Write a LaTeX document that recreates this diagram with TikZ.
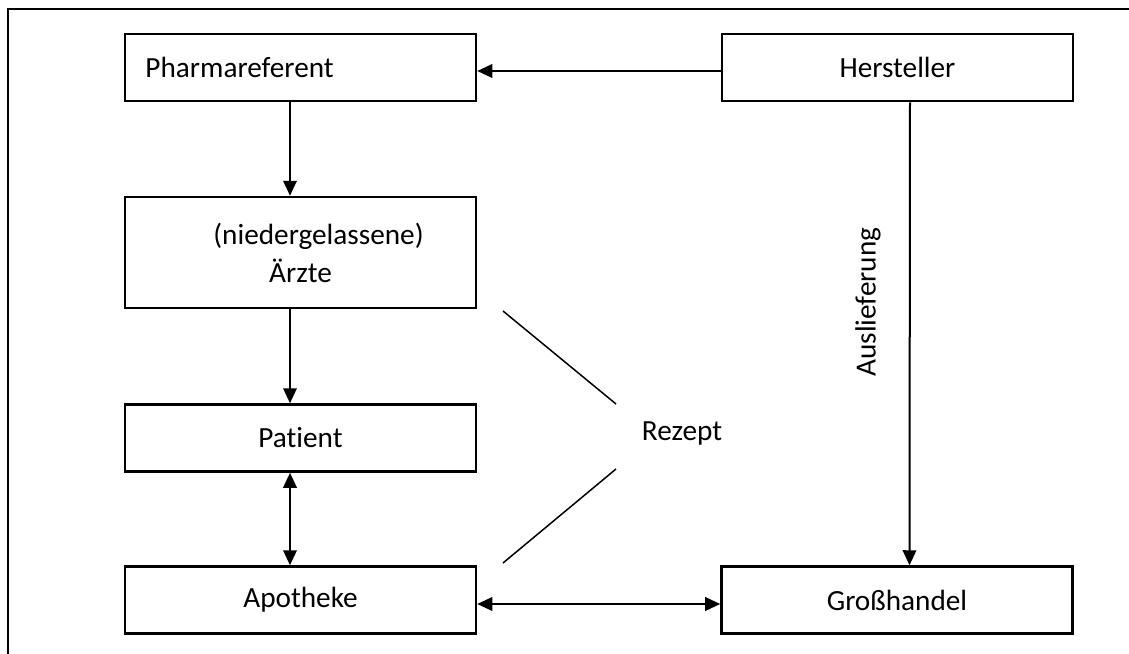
\documentclass[tikz,border=0pt]{standalone}
\usepackage{fontspec}
\setmainfont{Carlito}[Ligatures=NoCommon]
\usetikzlibrary{arrows.meta}

\begin{document}
\begin{tikzpicture}[x=0.4pt,y=-0.4pt,
    every node/.style={font=\fontsize{11.7}{15.2}\selectfont},
    box/.style={draw, line width=1pt, minimum width=140.4pt, minimum height=26.8pt, inner sep=0pt},
    arr/.style={line width=0.8pt, -{Triangle[length=6pt,width=5.4pt]}},
    darr/.style={line width=0.8pt, {Triangle[length=6pt,width=5.4pt]}-{Triangle[length=6pt,width=5.4pt]}}]
    \useasboundingbox (0,0) rectangle (1129,654);

    % draw outer frame
    \begin{scope}
    \clip (0,0) rectangle (1129,654);
    \draw[line width=0.8pt] (8,680) -- (8,9) -- (1150,9);
    \end{scope}

    % draw boxes
    \node[box, text width=124pt, inner xsep=8.2pt, align=left] (pharma) at (300.5,67.5) {Pharmareferent};
    \node[box] (herst) at (897.5,67.5) {Hersteller};
    \node[box, minimum height=44.4pt, align=center] (aerzte) at (300.5,252.5) {\hspace*{14.4pt}(niedergelassene)\\Ärzte};
    \node[box] (patient) at (300.5,438) {Patient};
    \node[box] (apo) at (300.5,600) {Apotheke};
    \node[box] (gross) at (897,600) {Großhandel};

    % draw labels
    \node[rotate=90] (ausl) at (868,302) {Auslieferung};
    \node (rezept) at (682,433) {Rezept};

    % draw arrows
    \draw[arr] ([yshift=-1.4pt]herst.west) -- ([yshift=-1.4pt]pharma.east);
    \draw[arr] ([xshift=-4.2pt]pharma.south) -- ([xshift=-4.2pt]aerzte.north);
    \draw[arr] ([xshift=-4.2pt]aerzte.south) -- ([xshift=-4.2pt]patient.north);
    \draw[darr] ([xshift=-4.2pt]patient.south) -- ([xshift=-4.2pt]apo.north);
    \draw[darr] ([yshift=-1.6pt]apo.east) -- ([yshift=-1.6pt]gross.west);
    \draw[arr] ([xshift=5pt]herst.south) -- ([xshift=5pt]gross.north);

    % draw rezept lines
    \coordinate (r1) at (503,311);
    \coordinate (r2) at (616,404);
    \coordinate (r3) at (616,469);
    \coordinate (r4) at (503,563);
    \draw[line width=0.6pt] (r1) -- (r2);
    \draw[line width=0.6pt] (r3) -- (r4);
\end{tikzpicture}
\end{document}
